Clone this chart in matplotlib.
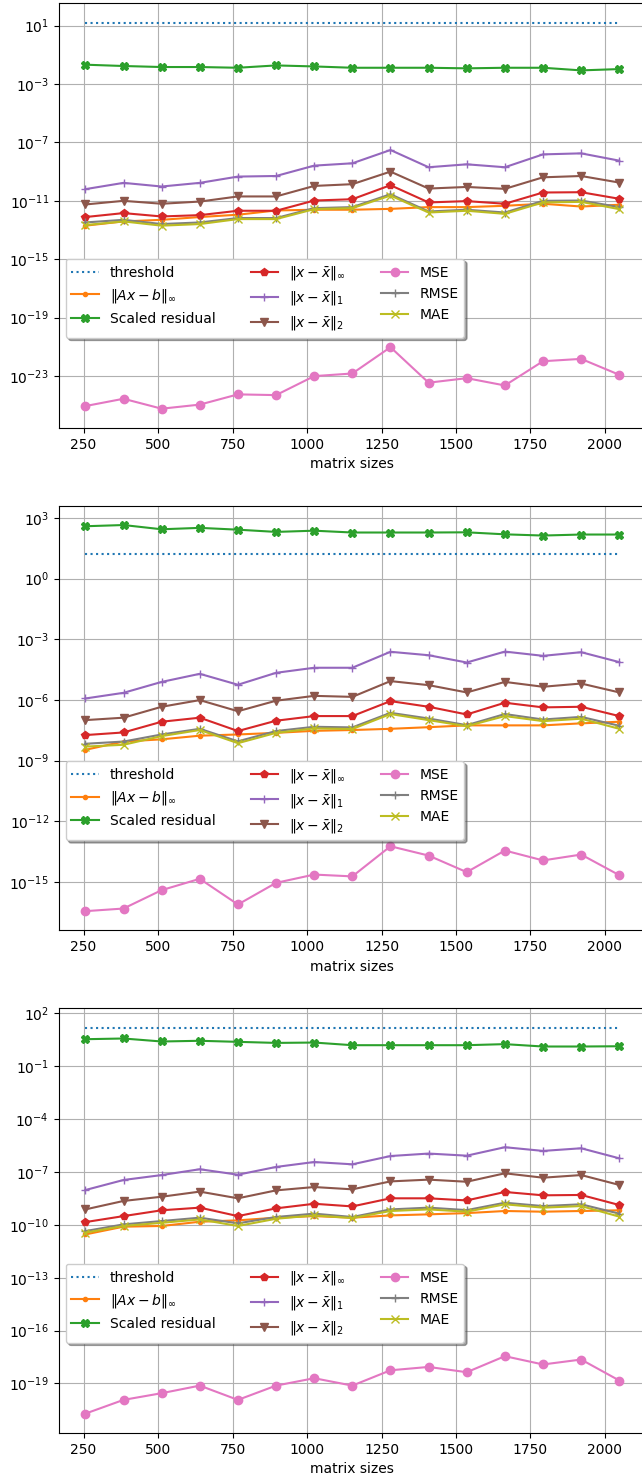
import numpy as np
import matplotlib
matplotlib.use("Agg")
from matplotlib import pyplot as plt

sizes = [256, 384, 512, 640, 768, 896, 1024, 1152, 1280, 1408, 1536, 1664, 1792, 1920, 2048]
threshold = 16.0

# values as log10
# top panel
p1_residual = [-12.70, -12.41, -12.30, -12.11, -11.95, -11.66, -11.61, -11.61, -11.55, -11.43, -11.43, -11.34, -11.20, -11.39, -11.27]
p1_scaled = [-1.68, -1.77, -1.84, -1.84, -1.89, -1.73, -1.80, -1.89, -1.89, -1.89, -1.93, -1.89, -1.89, -2.07, -1.98]
p1_inf = [-12.11, -11.84, -12.07, -11.98, -11.68, -11.68, -10.98, -10.89, -9.93, -11.11, -11.02, -11.20, -10.43, -10.41, -10.86]
p1_l1 = [-10.20, -9.77, -10.02, -9.77, -9.34, -9.30, -8.59, -8.43, -7.52, -8.70, -8.50, -8.70, -7.82, -7.75, -8.25]
p1_l2 = [-11.25, -11.00, -11.20, -11.05, -10.70, -10.70, -9.98, -9.86, -9.00, -10.16, -10.05, -10.18, -9.39, -9.30, -9.75]
p1_mse = [-25.05, -24.55, -25.23, -24.95, -24.25, -24.30, -23.00, -22.82, -21.02, -23.45, -23.14, -23.64, -21.98, -21.82, -22.91]
p1_rmse = [-12.48, -12.30, -12.59, -12.48, -12.18, -12.18, -11.50, -11.43, -10.55, -11.73, -11.61, -11.80, -11.00, -10.98, -11.43]
p1_mae = [-12.66, -12.41, -12.70, -12.59, -12.25, -12.25, -11.57, -11.50, -10.64, -11.80, -11.68, -11.89, -11.11, -11.07, -11.57]

# middle panel
p2_residual = [-8.47, -8.06, -7.95, -7.77, -7.71, -7.63, -7.53, -7.49, -7.43, -7.35, -7.26, -7.26, -7.26, -7.16, -7.08]
p2_scaled = [2.59, 2.65, 2.44, 2.51, 2.42, 2.31, 2.37, 2.28, 2.28, 2.28, 2.29, 2.19, 2.13, 2.18, 2.18]
p2_inf = [-7.74, -7.61, -7.08, -6.88, -7.54, -7.03, -6.80, -6.80, -6.06, -6.34, -6.72, -6.14, -6.37, -6.34, -6.80]
p2_l1 = [-5.93, -5.65, -5.11, -4.71, -5.25, -4.66, -4.41, -4.41, -3.62, -3.79, -4.15, -3.61, -3.82, -3.64, -4.13]
p2_l2 = [-7.00, -6.88, -6.34, -6.01, -6.56, -6.04, -5.80, -5.85, -5.07, -5.27, -5.63, -5.11, -5.35, -5.19, -5.63]
p2_mse = [-16.45, -16.32, -15.41, -14.85, -16.12, -15.05, -14.64, -14.73, -13.24, -13.70, -14.52, -13.45, -13.94, -13.65, -14.67]
p2_rmse = [-8.17, -8.06, -7.71, -7.43, -8.05, -7.54, -7.33, -7.36, -6.64, -6.92, -7.25, -6.70, -6.97, -6.84, -7.28]
p2_mae = [-8.31, -8.22, -7.79, -7.49, -8.14, -7.63, -7.41, -7.44, -6.70, -7.00, -7.30, -6.80, -7.05, -6.93, -7.43]

# bottom panel
p3_residual = [-10.54, -10.10, -10.06, -9.82, -9.74, -9.59, -9.50, -9.59, -9.46, -9.40, -9.33, -9.21, -9.25, -9.21, -9.17]
p3_scaled = [0.54, 0.58, 0.41, 0.45, 0.39, 0.33, 0.35, 0.20, 0.20, 0.20, 0.20, 0.26, 0.125, 0.125, 0.14]
p3_inf = [-9.84, -9.50, -9.17, -9.02, -9.50, -9.06, -8.80, -8.95, -8.49, -8.49, -8.61, -8.13, -8.32, -8.30, -8.87]
p3_l1 = [-8.02, -7.45, -7.17, -6.84, -7.15, -6.71, -6.43, -6.56, -6.09, -5.95, -6.07, -5.59, -5.80, -5.65, -6.22]
p3_l2 = [-9.12, -8.64, -8.40, -8.11, -8.49, -8.04, -7.85, -7.98, -7.53, -7.43, -7.55, -7.07, -7.32, -7.17, -7.73]
p3_mse = [-20.71, -19.93, -19.55, -19.12, -19.93, -19.12, -18.70, -19.12, -18.25, -18.06, -18.36, -17.45, -17.92, -17.64, -18.83]
p3_rmse = [-10.35, -9.97, -9.78, -9.59, -9.91, -9.55, -9.36, -9.55, -9.12, -9.02, -9.16, -8.74, -8.93, -8.83, -9.36]
p3_mae = [-10.44, -10.06, -9.88, -9.69, -10.06, -9.65, -9.46, -9.61, -9.21, -9.12, -9.25, -8.83, -9.02, -8.93, -9.53]

panels = [
    [p1_residual, p1_scaled, p1_inf, p1_l1, p1_l2, p1_mse, p1_rmse, p1_mae],
    [p2_residual, p2_scaled, p2_inf, p2_l1, p2_l2, p2_mse, p2_rmse, p2_mae],
    [p3_residual, p3_scaled, p3_inf, p3_l1, p3_l2, p3_mse, p3_rmse, p3_mae],
]

labels = [r"$\|Ax-b\|_\infty$", "Scaled residual", r"$\|x-\bar{x}\|_\infty$",
          r"$\|x-\bar{x}\|_1$", r"$\|x-\bar{x}\|_2$", "MSE", "RMSE", "MAE"]
markers = [".", "X", "p", "+", "v", "o", "+", "x"]
colors = ["C1", "C2", "C3", "C4", "C5", "C6", "C7", "C8"]

fig, axes = plt.subplots(3, 1, figsize=(6.42, 14.8), dpi=100)
plt.subplots_adjust(left=0.0914, right=1.0062, top=0.9978, bottom=0.0318, hspace=0.183)

for ax, series in zip(axes, panels):
    ax.plot(sizes, [threshold] * len(sizes), ":", color="C0", label="threshold")
    for vals, lab, mk, col in zip(series, labels, markers, colors):
        ax.plot(sizes, 10.0 ** np.array(vals), marker=mk, color=col, label=lab)
    ax.set_yscale("log")
    ax.set_xlabel("matrix sizes")
    ax.grid(True)
    ax.legend(ncol=3, shadow=True, loc="upper left", bbox_to_anchor=(0, 0.415),
              columnspacing=2.5)

plt.savefig("out.png")
